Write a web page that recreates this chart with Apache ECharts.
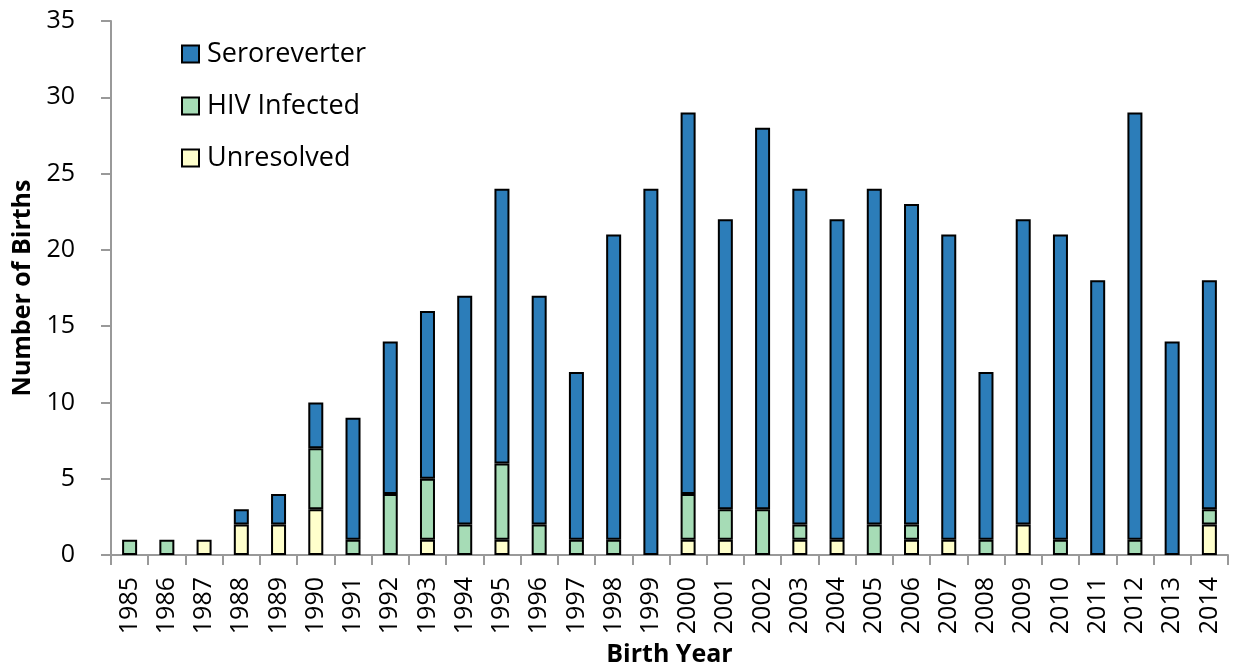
<!DOCTYPE html>
<html><head><meta charset="utf-8">
<script src="https://cdn.jsdelivr.net/npm/echarts@6/dist/echarts.min.js"></script>
<style>html,body{margin:0;padding:0;background:#fff}#c{width:1236px;height:670px}</style>
</head><body><div id="c"></div>
<script>
const years = ['1985','1986','1987','1988','1989','1990','1991','1992','1993','1994','1995','1996','1997','1998','1999','2000','2001','2002','2003','2004','2005','2006','2007','2008','2009','2010','2011','2012','2013','2014'];
const unresolved   = [0,0,1,2,2,3,0,0,1,0,1,0,0,0,0,1,1,0,1,1,0,1,1,0,2,0,0,0,0,2];
const hivInfected  = [1,1,0,0,0,4,1,4,4,2,5,2,1,1,0,3,2,3,1,0,2,1,0,1,0,1,0,1,0,1];
const seroreverter = [0,0,0,1,2,3,8,10,11,15,18,15,11,20,24,25,19,25,22,21,22,21,20,11,20,20,18,28,14,15];
const yTicks = [0,5,10,15,20,25,30,35];

const font = "'Open Sans', 'DejaVu Sans', sans-serif";
const chart = echarts.init(document.getElementById('c'));
function ser(name, data, color) {
  return {
    name, type: 'bar', stack: 't', data: data.map(v => v === 0 ? null : v), barWidth: 15,
    itemStyle: { color, borderColor: '#000', borderWidth: 2 }
  };
}
chart.setOption({
  animation: false,
  grid: { left: 111, right: 8, top: 21, bottom: 115, containLabel: false, outerBoundsMode: 'none' },
  legend: {
    orient: 'vertical', left: 176, top: 35, itemGap: 24,
    itemWidth: 17, itemHeight: 17,
    data: ['Seroreverter','HIV Infected','Unresolved'],
    textStyle: { fontFamily: font, fontSize: 27, lineHeight: 28, color: '#000', padding: [0,0,0,3] },
    icon: 'rect'
  },
  xAxis: {
    type: 'category', data: years,
    name: 'Birth Year', nameLocation: 'middle', nameGap: 86,
    nameTextStyle: { fontFamily: font, fontSize: 25, fontWeight: 'bold', color: '#000' },
    axisLine: { lineStyle: { color: '#999', width: 2 } },
    axisTick: { show: true, length: 10, lineStyle: { color: '#999', width: 2 } },
    axisLabel: { rotate: 90, fontFamily: font, fontSize: 25, color: '#000', margin: 22 }
  },
  yAxis: {
    type: 'value', min: 0, max: 35, interval: 5,
    name: 'Number of Births', nameLocation: 'middle', nameGap: 75,
    nameTextStyle: { fontFamily: font, fontSize: 25, fontWeight: 'bold', color: '#000' },
    axisLine: { show: true, lineStyle: { color: '#999', width: 2 } },
    axisTick: { show: true, length: 10, lineStyle: { color: '#999', width: 2 } },
    splitLine: { show: false },
    axisLabel: { fontFamily: font, fontSize: 25, color: '#000', margin: 36,
      formatter: v => yTicks.includes(v) ? String(v) : '' }
  },
  series: [
    ser('Unresolved', unresolved, '#FFFFCC'),
    ser('HIV Infected', hivInfected, '#A6DCB6'),
    ser('Seroreverter', seroreverter, '#2C7DB9')
  ]
});
</script></body></html>
